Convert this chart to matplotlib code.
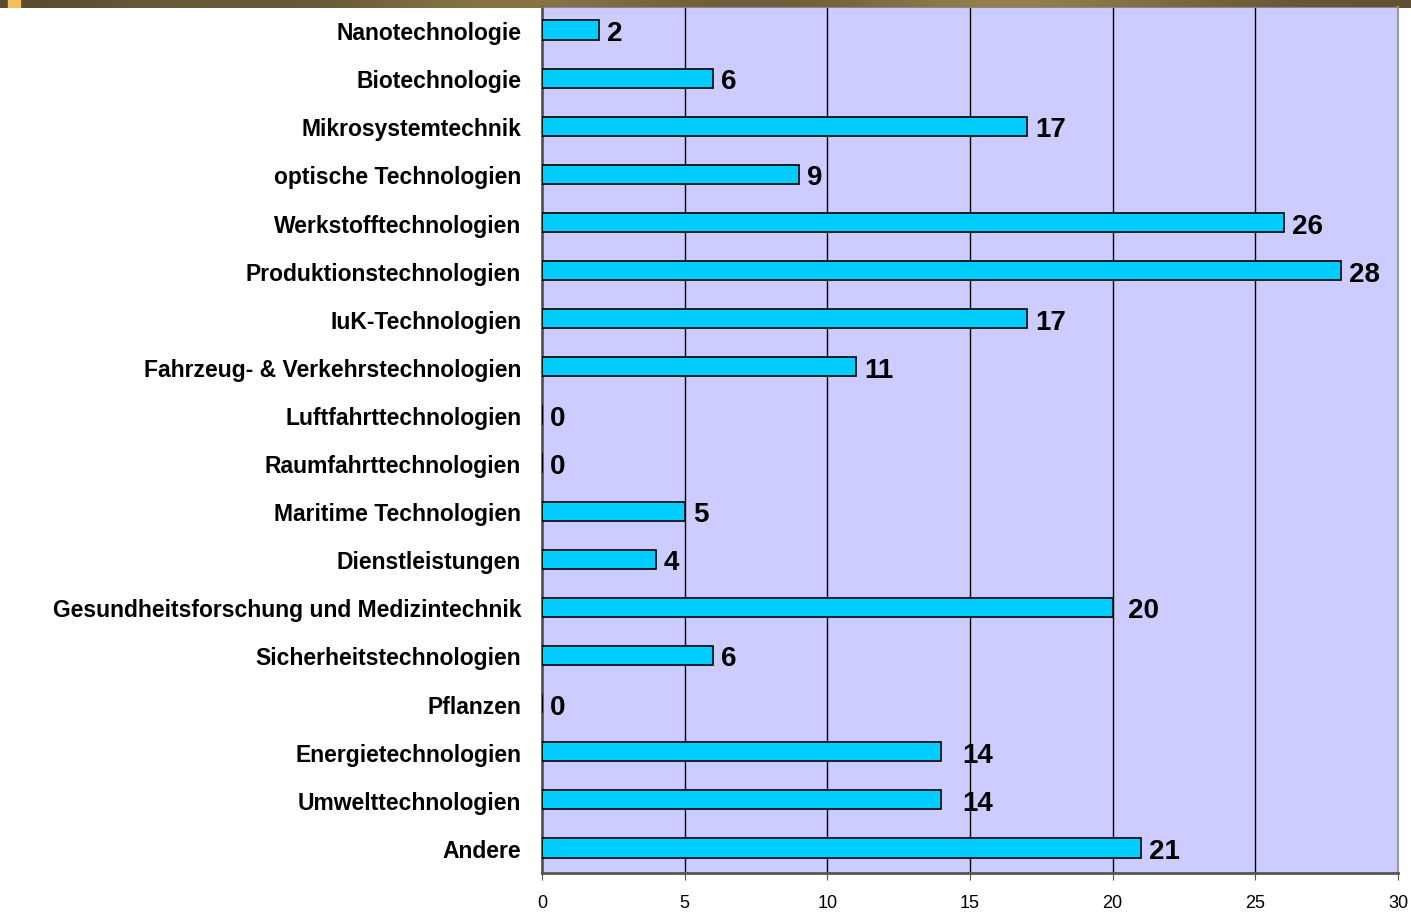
import numpy as np
import matplotlib.pyplot as plt
from matplotlib.patches import Rectangle
from matplotlib.colors import LinearSegmentedColormap

# Kategorien und Werte (von oben nach unten)
kategorien = ['Nanotechnologie', 'Biotechnologie', 'Mikrosystemtechnik',
              'optische Technologien', 'Werkstofftechnologien',
              'Produktionstechnologien', 'IuK-Technologien',
              'Fahrzeug- & Verkehrstechnologien', 'Luftfahrttechnologien',
              'Raumfahrttechnologien', 'Maritime Technologien',
              'Dienstleistungen', 'Gesundheitsforschung und Medizintechnik',
              'Sicherheitstechnologien', 'Pflanzen', 'Energietechnologien',
              'Umwelttechnologien', 'Andere']
werte = [2, 6, 17, 9, 26, 28, 17, 11, 0, 0, 5, 4, 20, 6, 0, 14, 14, 21]
xticks = [0, 5, 10, 15, 20, 25, 30]

# Verschiebung einzelner Beschriftungen (wie im Original)
extra_abstand = {'Gesundheitsforschung und Medizintechnik': 0.25,
                 'Energietechnologien': 0.45, 'Umwelttechnologien': 0.45}

plt.rcParams['font.family'] = ['Liberation Sans', 'DejaVu Sans']

fig = plt.figure(figsize=(14.11, 9.13), dpi=100)

# Balken oben (Folienhintergrund)
top = fig.add_axes([0, 1 - 8/913, 1, 8/913])
grad = np.array([[0.0, 0.3, 0.1, 0.5, 0.7, 0.4, 0.2, 0.5, 0.9, 0.6, 0.3, 0.1]])
cm = LinearSegmentedColormap.from_list('b', ['#5a4b30', '#9c8650'])
top.imshow(grad, aspect='auto', cmap=cm, interpolation='bicubic', extent=[0, 1, 0, 1])
top.add_patch(Rectangle((8/1411, 0), 12/1411, 1, color='#f0c060'))
top.set_xlim(0, 1)
top.set_ylim(0, 1)
top.axis('off')

ax = fig.add_axes([542/1411, 1 - 873/913, (1398 - 542)/1411, (873 - 7)/913])
ax.set_facecolor('#ccccff')
y = np.arange(len(kategorien))
ax.barh(y - 0.02, werte, height=0.4, color='#00ccff', edgecolor='black', linewidth=1.2, zorder=3)
ax.set_ylim(len(kategorien) - 0.5, -0.5)
ax.set_xlim(0, 30)
ax.set_xticks(xticks)
ax.set_xticklabels([str(t) for t in xticks], fontsize=13)
ax.set_yticks(y)
ax.set_yticklabels(kategorien, fontsize=16.5, fontweight='bold')
ax.tick_params(axis='y', length=0, pad=15)
ax.tick_params(axis='x', length=5, color='#555555', pad=11)
for t in xticks[1:-1]:
    ax.axvline(t, color='black', linewidth=1, zorder=1)

for yi, (k, w) in enumerate(zip(kategorien, werte)):
    ax.text(w + 0.28 + extra_abstand.get(k, 0), yi, str(w), va='center_baseline', ha='left',
            fontsize=20, fontweight='bold', zorder=4)

ax.spines['left'].set_color('#555555')
ax.spines['left'].set_linewidth(2)
ax.spines['bottom'].set_color('#555555')
ax.spines['bottom'].set_linewidth(2)
ax.spines['top'].set_color('#888888')
ax.spines['right'].set_color('#999999')
ax.spines['right'].set_linewidth(1.5)

fig.savefig('out.png', dpi=100)
